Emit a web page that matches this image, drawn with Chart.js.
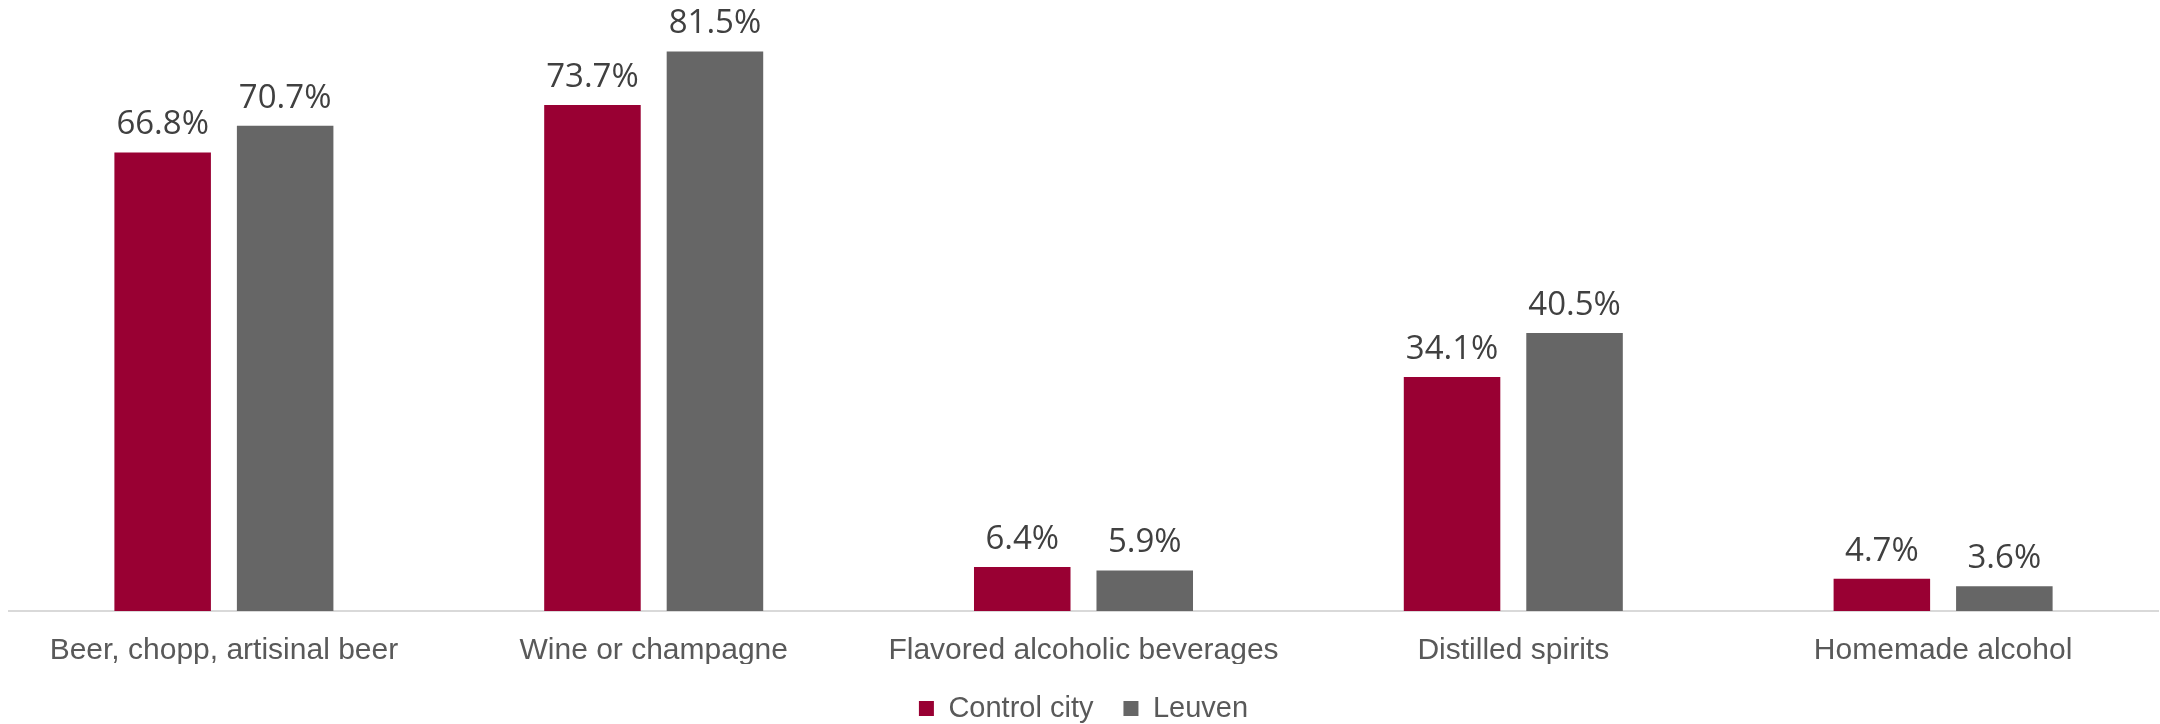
<!DOCTYPE html>
<html>
<head>
<meta charset="utf-8">
<script src="https://cdn.jsdelivr.net/npm/chart.js@4.4.1/dist/chart.umd.min.js"></script>
<style>
  html, body { margin: 0; padding: 0; background: #ffffff; }
  #wrap { width: 2160px; height: 724px; position: relative; }
</style>
</head>
<body>
<div id="wrap"><canvas id="chart"></canvas></div>
<script>
// Share of respondents who drank each type of beverage (%)
const categories = [
  'Beer, chopp, artisinal beer',
  'Wine or champagne',
  'Flavored alcoholic beverages',
  'Distilled spirits',
  'Homemade alcohol'
];
const controlCity = [66.8, 73.7, 6.4, 34.1, 4.7];
const leuven = [70.7, 81.5, 5.9, 40.5, 3.6];
const seriesNames = ['Control city', 'Leuven'];

const LABEL_FONT = '33px "Open Sans"';

// Prints each bar's value above it, using the bar's own element position
const valueLabels = {
  id: 'valueLabels',
  afterDatasetsDraw(chart) {
    const ctx = chart.ctx;
    ctx.save();
    ctx.font = LABEL_FONT;
    ctx.fillStyle = '#404040';
    ctx.textAlign = 'center';
    ctx.textBaseline = 'alphabetic';
    chart.data.datasets.forEach((ds, i) => {
      const meta = chart.getDatasetMeta(i);
      meta.data.forEach((bar, j) => {
        ctx.fillText(ds.data[j].toFixed(1) + '%', bar.x, bar.y - 18);
      });
    });
    ctx.restore();
  }
};

function draw() {
  new Chart(document.getElementById('chart'), {
    type: 'bar',
    data: {
      labels: categories,
      datasets: [
        { label: seriesNames[0], data: controlCity, backgroundColor: '#990033' },
        { label: seriesNames[1], data: leuven, backgroundColor: '#666666' }
      ]
    },
    options: {
      responsive: true,
      maintainAspectRatio: false,
      animation: false,
      layout: { padding: { top: 0, left: 9, right: 2, bottom: 0 } },
      datasets: {
        bar: { categoryPercentage: 0.57, barPercentage: 0.788 }
      },
      scales: {
        x: {
          grid: { display: false, drawTicks: false },
          border: { display: true, color: '#d9d9d9', width: 2 },
          ticks: {
            color: '#595959',
            font: { family: '"Liberation Sans", Arial, sans-serif', size: 30 },
            padding: 22,
            maxRotation: 0,
            autoSkip: false
          },
          afterFit(scale) { scale.height = 53; }
        },
        y: {
          display: false,
          min: 0,
          max: 89
        }
      },
      plugins: {
        legend: {
          position: 'bottom',
          maxHeight: 60,
          labels: {
            color: '#595959',
            font: { family: '"Liberation Sans", Arial, sans-serif', size: 29 },
            boxWidth: 15,
            boxHeight: 15,
            padding: 30
          }
        },
        tooltip: { enabled: false }
      }
    },
    plugins: [valueLabels]
  });
}

Promise.all([
  document.fonts.load(LABEL_FONT),
  document.fonts.load('30px "Liberation Sans"')
]).then(draw, draw);
</script>
</body>
</html>
